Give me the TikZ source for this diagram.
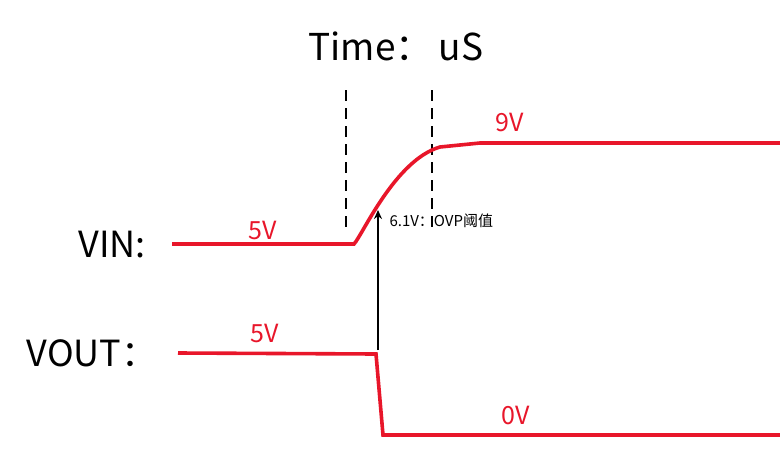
\documentclass[tikz,border=0pt]{standalone}
\usepackage{fontspec}
\usetikzlibrary{arrows.meta}
\setmainfont{Noto Sans CJK SC}
\definecolor{sigred}{RGB}{232,22,42}
\begin{document}
\begin{tikzpicture}[x=1pt,y=-1pt,
  sig/.style={draw=sigred,line width=3.6pt},
  rlab/.style={text=sigred,font=\fontsize{25}{26}\selectfont},
  blab/.style={font=\fontsize{36}{38}\selectfont},
  dsh/.style={draw,line width=2.2pt,dash pattern=on 11pt off 7pt}]
\useasboundingbox (0,0) rectangle (780,453);
\node[font=\fontsize{37}{39}\selectfont] (t) at (396,46) {Time：\,uS};
\coordinate (d1a) at (346,90); \coordinate (d1b) at (346,232);
\coordinate (d2a) at (432,90); \coordinate (d2b) at (432,228);
\draw[dsh] (d1a) -- (d1b);
\draw[dsh] (d2a) -- (d2b);
\coordinate (v0) at (172,244); \coordinate (v1) at (354,244);
\coordinate (v2) at (480,143); \coordinate (v3) at (780,143);
\draw[sig] (v0) -- (v1) .. controls (362,236) and (395,160) .. (440,147) -- (v2) -- (v3);
\node[blab] (vin) at (112,245) {VIN:};
\node[rlab] (l5a) at (263,230) {5V};
\node[rlab] (l9) at (510,122) {9V};
\coordinate (a0) at (378,350); \coordinate (a1) at (378,210);
\draw[-{Stealth[length=9pt,width=8pt]},line width=1.8pt] (a0) -- (a1);
\node[anchor=west,font=\fontsize{15}{16}\selectfont] (ovp) at (386,221) {6.1V：OVP阈值};
\coordinate (o0) at (178,353); \coordinate (o1) at (376,354);
\coordinate (o2) at (383,435); \coordinate (o3) at (780,435);
\draw[sig] (o0) -- (o1) -- (o2) -- (o3);
\node[blab] (vout) at (92,353) {VOUT：};
\node[rlab] (l5b) at (265,333) {5V};
\node[rlab] (l0) at (516,415) {0V};
\end{tikzpicture}
\end{document}
